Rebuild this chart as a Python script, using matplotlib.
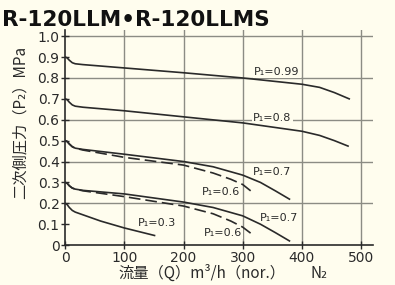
import matplotlib
matplotlib.use("Agg")
import matplotlib.pyplot as plt

# flow (m3/h nor.) vs secondary pressure (MPa)
x_099 = [0, 3, 7, 12, 17, 30, 100, 200, 300, 400, 430, 455, 480]
y_099 = [0.90, 0.897, 0.885, 0.873, 0.868, 0.864, 0.848, 0.825, 0.80, 0.77, 0.755, 0.73, 0.70]

x_08 = [0, 3, 7, 12, 17, 30, 100, 200, 300, 400, 430, 455, 478]
y_08 = [0.70, 0.697, 0.684, 0.671, 0.665, 0.66, 0.643, 0.614, 0.585, 0.545, 0.525, 0.50, 0.474]

x_07a = [0, 3, 7, 12, 17, 30, 100, 200, 250, 300, 330, 355, 379]
y_07a = [0.50, 0.497, 0.484, 0.471, 0.464, 0.458, 0.435, 0.40, 0.375, 0.335, 0.30, 0.26, 0.22]

x_06a = [0, 3, 7, 12, 17, 30, 100, 200, 250, 280, 300, 320]
y_06a = [0.50, 0.497, 0.484, 0.471, 0.464, 0.455, 0.42, 0.383, 0.345, 0.315, 0.29, 0.245]

x_07b = [0, 3, 7, 12, 17, 30, 100, 200, 250, 300, 330, 355, 379]
y_07b = [0.30, 0.297, 0.284, 0.273, 0.268, 0.262, 0.245, 0.206, 0.18, 0.14, 0.10, 0.06, 0.02]

x_06b = [0, 3, 7, 12, 17, 30, 100, 200, 250, 280, 300, 320]
y_06b = [0.30, 0.297, 0.284, 0.273, 0.268, 0.26, 0.232, 0.187, 0.15, 0.115, 0.086, 0.043]

x_03 = [0, 3, 7, 12, 17, 60, 100, 151]
y_03 = [0.20, 0.195, 0.18, 0.166, 0.158, 0.115, 0.082, 0.046]

labels = ["P₁=0.99", "P₁=0.8", "P₁=0.7", "P₁=0.6", "P₁=0.7", "P₁=0.6", "P₁=0.3"]
label_x = [358, 350, 350, 264, 362, 267, 155]
label_y = [0.83, 0.61, 0.35, 0.254, 0.13, 0.057, 0.105]

bg = "#fffdee"
ink = "#2a2a2a"
grid = "#8c8c84"

fig = plt.figure(figsize=(3.95, 2.85), dpi=100, facecolor=bg)
ax = fig.add_axes([0.165, 0.14, 0.779, 0.755], facecolor=bg)

for v in [100, 200, 300, 400, 500]:
    ax.axvline(v, color=grid, lw=1.0, zorder=1)
for h in [0.2, 0.4, 0.6, 0.8, 1.0]:
    ax.axhline(h, color=grid, lw=1.0, zorder=1)

ax.plot(x_099, y_099, color=ink, lw=1.2, zorder=3)
ax.plot(x_08, y_08, color=ink, lw=1.2, zorder=3)
ax.plot(x_07a, y_07a, color=ink, lw=1.2, zorder=3)
ax.plot(x_06a, y_06a, color=ink, lw=1.2, ls=(0, (7, 3)), zorder=3)
ax.plot(x_07b, y_07b, color=ink, lw=1.2, zorder=3)
ax.plot(x_06b, y_06b, color=ink, lw=1.2, ls=(0, (7, 3)), zorder=3)
ax.plot(x_03, y_03, color=ink, lw=1.2, zorder=3)

for t, lx, ly in zip(labels, label_x, label_y):
    ax.text(lx, ly, t, fontsize=8, color=ink, ha="center", va="center", zorder=2,
            bbox=dict(boxstyle="square,pad=0.1", fc=bg, ec="none"))

ax.set_xlim(0, 520)
ax.set_ylim(0, 1.03)
ax.set_xticks([0, 100, 200, 300, 400, 500])
ax.set_yticks([0, 0.1, 0.2, 0.3, 0.4, 0.5, 0.6, 0.7, 0.8, 0.9, 1.0])
ax.set_yticklabels(["0", "0.1", "0.2", "0.3", "0.4", "0.5", "0.6", "0.7", "0.8", "0.9", "1.0"])
ax.tick_params(direction="inout", length=6, width=1, colors=ink, labelsize=10, pad=1)
for s in ["top", "right"]:
    ax.spines[s].set_visible(False)
for s in ["left", "bottom"]:
    ax.spines[s].set_color(ink)
    ax.spines[s].set_linewidth(1.2)

fig.text(0.005, 0.93, "R-120LLM•R-120LLMS", fontsize=15.5, fontweight="bold",
         color="#111111", ha="left", va="center")

cjk = ["Noto Sans CJK JP", "DejaVu Sans"]
fig.text(0.05, 0.57, "二次側圧力（P₂）MPa", rotation=90, fontsize=11, color=ink,
         ha="center", va="center", family=cjk)
fig.text(0.3, 0.04, "流量（Q）m³/h（nor.）", fontsize=11, color=ink,
         ha="left", va="center", family=cjk)
fig.text(0.785, 0.04, "N₂", fontsize=11, color=ink, ha="left", va="center", family=cjk)

fig.savefig("out.png", dpi=100, facecolor=bg)
